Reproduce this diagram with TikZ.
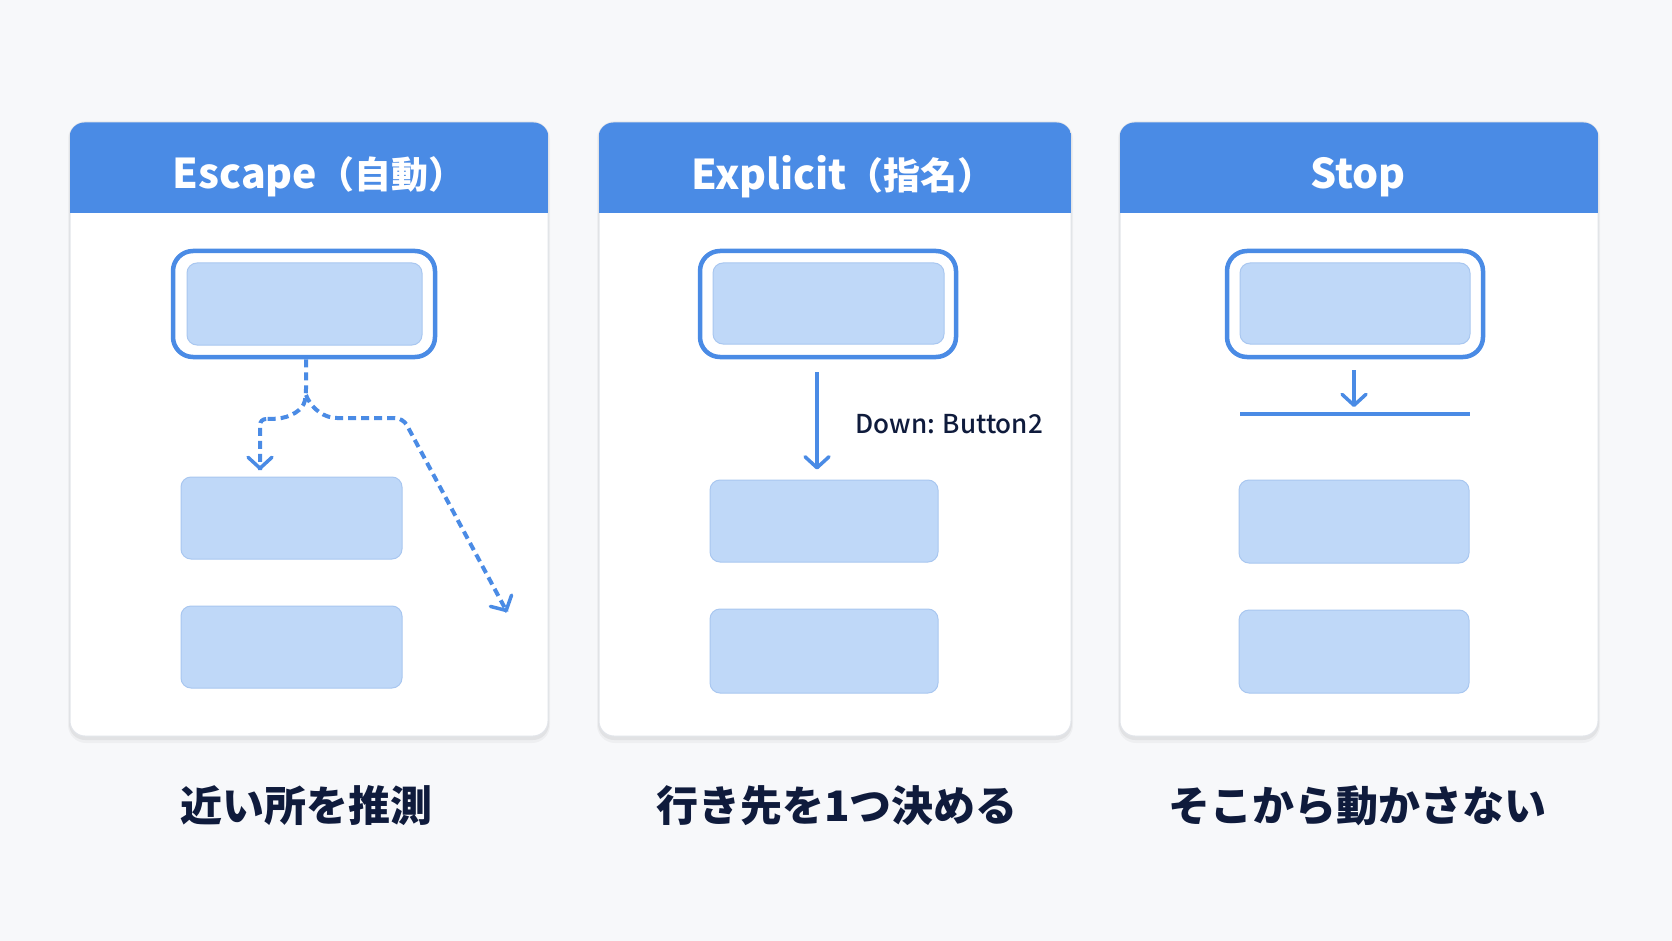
\documentclass[tikz,border=0pt]{standalone}
\usepackage{fontspec}
\setmainfont{Noto Sans CJK JP}
\newfontfamily\medfont{Noto Sans CJK JP Medium}
\newfontfamily\blackfont{Noto Sans CJK JP Black}
\usetikzlibrary{arrows.meta}
\definecolor{bgc}{HTML}{F7F8FA}
\definecolor{hdr}{HTML}{4A8BE5}
\definecolor{boxfill}{HTML}{BFD8F8}
\definecolor{boxline}{HTML}{A9C7F0}
\definecolor{panelline}{HTML}{E2E5EA}
\definecolor{ink}{HTML}{0F1B3C}
\newcommand\cjkp[1]{{\fontsize{37}{42}\selectfont #1}}
\tikzset{
  panel/.style={draw=panelline, line width=1pt, fill=white, rounded corners=15pt, inner sep=0pt},
  selbox/.style={draw=hdr, line width=4.5pt, fill=white, rounded corners=20pt, inner sep=0pt},
  inbox/.style={draw=boxline, line width=1pt, fill=boxfill, rounded corners=10pt, inner sep=0pt},
  hdrtext/.style={text=white, font=\fontsize{41}{44}\selectfont\bfseries},
  caption/.style={text=ink, font=\fontsize{42}{46}\selectfont\blackfont},
  lbl/.style={text=ink, font=\fontsize{26}{28}\selectfont\medfont},
  tipv/.style={-{Straight Barb[round,length=11pt,width=24pt,line width=3.5pt]}},
  dsh/.style={draw=hdr, line width=4pt, dash pattern=on 8pt off 5pt},
  sld/.style={draw=hdr, line width=3.5pt, tipv},
}
\newcommand\mypanel[5]{% name, center x, width, title, text shift
  \fill[black,opacity=0.035,rounded corners=18pt] (#2-#3/2-2,121) rectangle (#2+#3/2+2,743);
  \fill[black,opacity=0.05,rounded corners=16pt] (#2-#3/2-1,122) rectangle (#2+#3/2+1,740);
  \node[panel, minimum width=#3, minimum height=613] (#1) at (#2,429.5) {};
  \begin{scope}
    \clip[rounded corners=15pt] (#1.south west) rectangle (#1.north east);
    \fill[hdr] (#1.north west) rectangle (#2+#3/2,213);
  \end{scope}
  \node[hdrtext] (#1t) at (#2+#5,177) {#4};
}
\begin{document}
\begin{tikzpicture}[x=1pt,y=-1pt]
\fill[bgc] (0,0) rectangle (1672,941);
\useasboundingbox (0,0) rectangle (1672,941);

\mypanel{p1}{309}{478}{Escape\cjkp{（自動）}}{10}
\mypanel{p2}{835}{472}{Explicit\cjkp{（指名）}}{8}
\mypanel{p3}{1359}{478}{Stop}{-1}

% panel 1
\node[selbox, minimum width=262, minimum height=106] (s1) at (304,304) {};
\node[inbox, minimum width=235, minimum height=82] (s1i) at (304.5,304) {};
\node[inbox, minimum width=221, minimum height=82] (b12) at (291.5,518) {};
\node[inbox, minimum width=221, minimum height=82] (b13) at (291.5,647) {};
\coordinate (d1) at (306,395);
\coordinate (l1) at (260,419);
\coordinate (t1) at (260,470);
\coordinate (t2) at (507,612);
\draw[dsh, rounded corners=6pt] (s1.south -| d1) -- (d1) .. controls (303,410) and (290,418) .. (270,419) -- (l1) -- (t1);
\draw[sld] (t1) ++(0,-1) -- (t1);
\draw[dsh, rounded corners=8pt] (d1) .. controls (312,410) and (325,418) .. (345,418) -- (403,418) -- (t2);
\draw[sld] (t2) ++(-0.47,-0.88) -- (t2);

% panel 2
\node[selbox, minimum width=256, minimum height=106] (s2) at (828,304) {};
\node[inbox, minimum width=231, minimum height=81] (s2i) at (828.5,303.5) {};
\node[inbox, minimum width=228, minimum height=82] (b22) at (824,521) {};
\node[inbox, minimum width=228, minimum height=84] (b23) at (824,651) {};
\coordinate (a2) at (817,0);
\draw[sld, shorten <=13pt, shorten >=10pt] (s2.south -| a2) -- (b22.north -| a2);
\node[lbl, anchor=west] (l2) at (852,424) {Down: Button2};

% panel 3
\node[selbox, minimum width=256, minimum height=106] (s3) at (1355,304) {};
\node[inbox, minimum width=230, minimum height=81] (s3i) at (1355,303.5) {};
\node[fill=hdr, inner sep=0pt, minimum width=230, minimum height=3.5] (w3) at (1355,414) {};
\node[inbox, minimum width=230, minimum height=83] (b32) at (1354,521.5) {};
\node[inbox, minimum width=230, minimum height=83] (b33) at (1354,651.5) {};
\coordinate (a3) at (1354,0);
\draw[sld, shorten <=11pt, shorten >=5pt] (s3.south -| a3) -- (w3.north -| a3);

% captions
\node[caption] (c1) at (306,806) {近い所を推測};
\node[caption] (c2) at (837,806) {行き先を1つ決める};
\node[caption] (c3) at (1357,806) {そこから動かさない};
\end{tikzpicture}
\end{document}
